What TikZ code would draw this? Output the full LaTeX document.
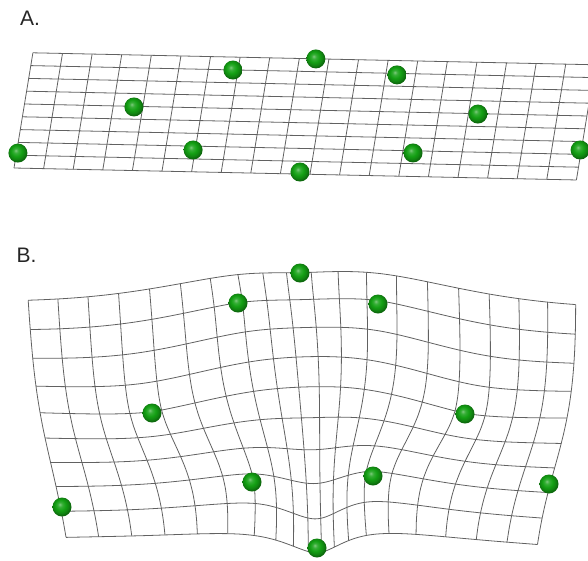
\documentclass[tikz,border=0pt]{standalone}
\usepackage{fontspec}
\setmainfont{Liberation Sans}
\usepackage{tikz}

\definecolor{lmgreen}{RGB}{20,160,20}
\pgfdeclareradialshading{lmsphere}{\pgfpoint{-6bp}{7bp}}{%
  color(0bp)=(lmgreen!55!white); color(6bp)=(lmgreen!85!white);
  color(14bp)=(lmgreen); color(22bp)=(lmgreen!80!black);
  color(25bp)=(lmgreen!65!black); color(50bp)=(lmgreen!65!black)}
\tikzset{
  gridline/.style={line width=0.8pt, black!62, line join=round},
  panel/.style={font=\fontsize{21}{24}\selectfont, text=black!85, anchor=base west, inner sep=0pt},
  lm/.style={shading=lmsphere}
}

% landmarks: u/v on the reference grid, x/y where they sit in B (pixels)
\def\lmlist{0.05/1.17/62/507, 3.70/4.95/152/413, 6.83/7.99/238/303,
  5.93/1.70/252/482, 9.65/0.16/317/548, 9.56/8.99/300/273,
  12.38/7.88/378/304, 15.32/4.97/465/414, 13.35/1.83/373/476,
  18.96/2.34/549/484}

% thin-plate spline from the reference grid to B
\newcommand\tv[2]{\csname tps#1#2\endcsname}
\newcommand\tvset[3]{\expandafter\xdef\csname tps#1#2\endcsname{\fpeval{#3}}}
\foreach \u/\v/\x/\y [count=\k] in \lmlist {%
  \tvset{u}{\k}{\u}\tvset{v}{\k}{\v}\tvset{x}{\k}{\x}\tvset{y}{\k}{\y}}
\foreach \i in {1,...,13}{\foreach \j in {1,...,15}{\tvset{M}{\i-\j}{0}}}
\foreach \i in {1,...,10}{%
  \pgfmathtruncatemacro\ci{\i+3}%
  \tvset{M}{\i-1}{1}\tvset{M}{\i-2}{\tv{u}{\i}}\tvset{M}{\i-3}{\tv{v}{\i}}%
  \tvset{M}{\i-14}{\tv{x}{\i}}\tvset{M}{\i-15}{\tv{y}{\i}}%
  \tvset{M}{11-\ci}{1}\tvset{M}{12-\ci}{\tv{u}{\i}}\tvset{M}{13-\ci}{\tv{v}{\i}}%
  \foreach \j in {1,...,10}{%
    \pgfmathtruncatemacro\cj{\j+3}%
    \ifnum\i=\j\relax\else
      \tvset{M}{\i-\cj}{((\tv{u}{\i}-\tv{u}{\j})^2+(\tv{v}{\i}-\tv{v}{\j})^2)
        *ln((\tv{u}{\i}-\tv{u}{\j})^2+(\tv{v}{\i}-\tv{v}{\j})^2)}%
    \fi}}
\foreach \k in {1,...,13}{%
  \foreach \i in {1,...,13}{%
    \ifnum\i=\k\relax\else
      \xdef\tpsf{\fpeval{(\tv{M}{\i-\k})/(\tv{M}{\k-\k})}}%
      \foreach \j in {\k,...,15}{\tvset{M}{\i-\j}{(\tv{M}{\i-\j})-(\tpsf)*(\tv{M}{\k-\j})}}%
    \fi}}
\foreach \k in {1,...,13}{%
  \tvset{cx}{\k}{(\tv{M}{\k-14})/(\tv{M}{\k-\k})}%
  \tvset{cy}{\k}{(\tv{M}{\k-15})/(\tv{M}{\k-\k})}}

\newcommand\tpspoint[2]{%
  \pgfmathparse{\tv{cx}{1}+(\tv{cx}{2})*(#1)+(\tv{cx}{3})*(#2)}\xdef\bx{\pgfmathresult}%
  \pgfmathparse{\tv{cy}{1}+(\tv{cy}{2})*(#1)+(\tv{cy}{3})*(#2)}\xdef\by{\pgfmathresult}%
  \foreach \k in {1,...,10}{%
    \pgfmathtruncatemacro\ck{\k+3}%
    \pgfmathparse{((#1)-\tv{u}{\k})*((#1)-\tv{u}{\k})+((#2)-\tv{v}{\k})*((#2)-\tv{v}{\k})}%
    \let\rr\pgfmathresult
    \pgfmathparse{\rr*ln(\rr+0.0001)}\let\rr\pgfmathresult
    \pgfmathparse{\bx+(\tv{cx}{\ck})*\rr}\xdef\bx{\pgfmathresult}%
    \pgfmathparse{\by+(\tv{cy}{\ck})*\rr}\xdef\by{\pgfmathresult}}}

% B grid sampled every half cell
\foreach \su in {0,...,38}{\foreach \sv in {0,...,18}{%
  \tpspoint{\su/2}{\sv/2}%
  \expandafter\xdef\csname bpt\su-\sv\endcsname{(\bx,\by)}}}

\begin{document}
\begin{tikzpicture}[x=1pt, y=-1pt]
  \useasboundingbox (0,0) rectangle (588,560);
  % Labels
  \node[panel] (labA) at (20,25) {A.};
  \node[panel] (labB) at (16.5,262) {B.};
  % A: sheared grid
  \foreach \i in {0,...,19}
    \draw[gridline] (14+29.6*\i, 168+0.63*\i) -- ++(18.9,-115.2);
  \foreach \j in {0,...,9}
    \draw[gridline] (14+2.1*\j, 168-12.8*\j) -- ++(562.4,11.97);
  % B: warped grid
  \foreach \sv in {0,2,...,18}{%
    \gdef\pts{}%
    \foreach \su in {0,...,38}{\xdef\pts{\pts\csname bpt\su-\sv\endcsname}}%
    \edef\tmp{\noexpand\draw[gridline] plot[smooth] coordinates {\pts};}\tmp}
  \foreach \su in {0,2,...,38}{%
    \gdef\pts{}%
    \foreach \sv in {0,...,18}{\xdef\pts{\pts\csname bpt\su-\sv\endcsname}}%
    \edef\tmp{\noexpand\draw[gridline] plot[smooth] coordinates {\pts};}\tmp}
  % Landmarks
  \foreach \u/\v/\x/\y in \lmlist {
    \shade[lm] (14+29.6*\u+2.1*\v, 168+0.63*\u-12.8*\v) circle (9.5pt);
    \shade[lm] (\x,\y) circle (9.5pt);
  }
\end{tikzpicture}
\end{document}
